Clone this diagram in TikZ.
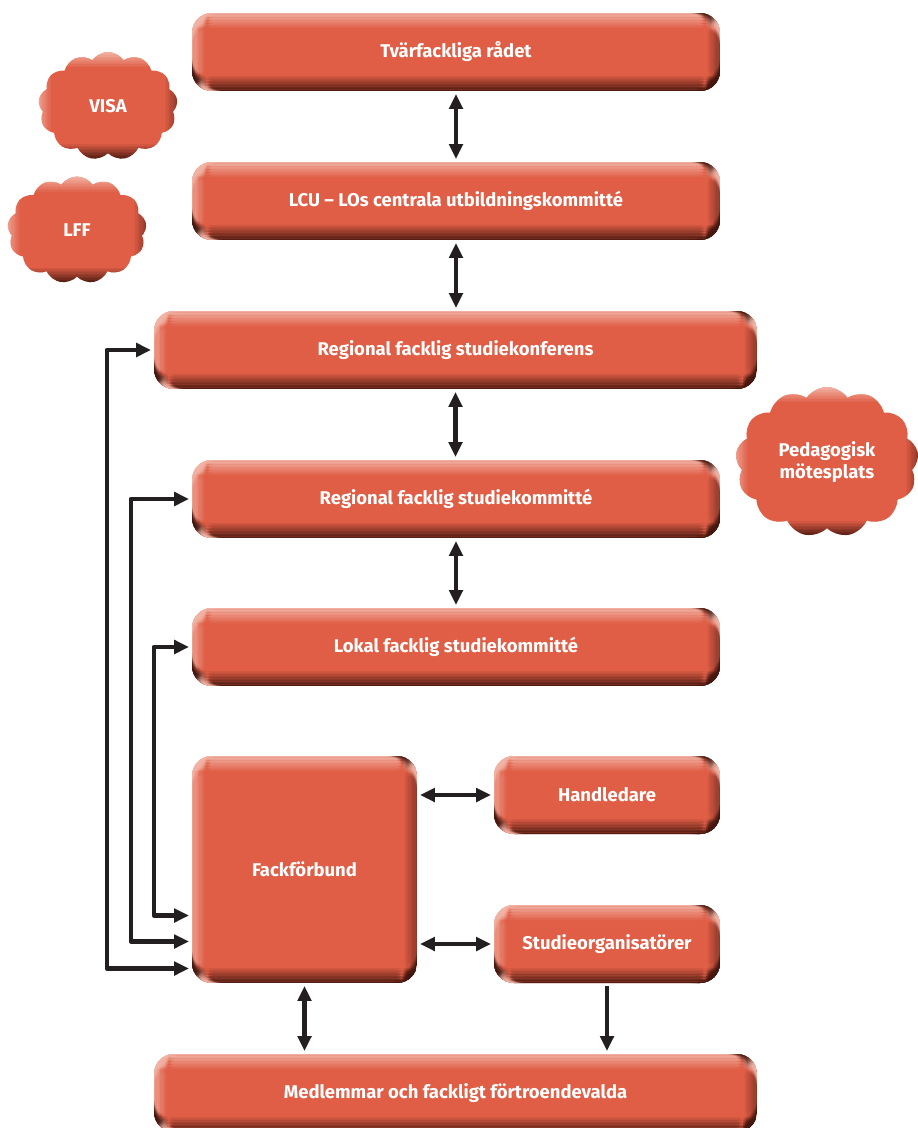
\documentclass[tikz,border=0pt]{standalone}
\usepackage{fontspec}
\setmainfont{Fira Sans}
\usetikzlibrary{arrows.meta,calc,shapes.symbols}
\definecolor{boxred}{HTML}{E05E46}
\definecolor{boxlight}{HTML}{F2B4A6}
\definecolor{boxdark}{HTML}{45170F}
\definecolor{pil}{HTML}{231F20}
\tikzset{
	bevel/.style={fill=boxred, path picture={
		\foreach \i in {0,...,9}{
			\pgfmathsetmacro\op{1-\i/10}
			\pgfmathsetmacro\ya{\i*0.03}\pgfmathsetmacro\yb{(\i+1)*0.03}
			\pgfmathsetmacro\xa{\i*0.025}\pgfmathsetmacro\xb{(\i+1)*0.025}
			\fill[boxlight,opacity=0.95*\op] ([yshift=-\ya cm]path picture bounding box.north west) rectangle ([yshift=-\yb cm]path picture bounding box.north east);
			\fill[boxlight,opacity=0.75*\op] ([xshift=\xa cm]path picture bounding box.north west) rectangle ([xshift=\xb cm]path picture bounding box.south west);
			\fill[boxdark,opacity=0.9*\op] ([yshift=\ya cm]path picture bounding box.south west) rectangle ([yshift=\yb cm]path picture bounding box.south east);
			\fill[boxdark,opacity=0.5*\op] ([xshift=-\xa cm]path picture bounding box.south east) rectangle ([xshift=-\xb cm]path picture bounding box.north east);
		}
	}},
	ruta/.style={bevel, rounded corners=0.4cm, minimum height=1.56cm, inner sep=0pt, text=white},
	moln/.style={bevel, cloud, cloud puffs=13, cloud puff arc=110, inner sep=0pt, text=white, align=center},
	pil/.style={draw=pil, line width=2.5pt, shorten <=1.5pt, shorten >=1.5pt}
}
\begin{document}
\begin{tikzpicture}[x=0.02cm,y=-0.02cm,>={Triangle[length=3mm,width=2.7mm]},line join=round,font=\fontsize{10.5pt}{12.5pt}\selectfont\bfseries]
	\useasboundingbox (0,0) rectangle (918,1128);
	% rutor
	\node[ruta, minimum width=10.56cm] (tvr) at (456,52) {Tvärfackliga rådet};
	\node[ruta, minimum width=10.56cm] (lcu) at (456,201) {LCU – LOs centrala utbildningskommitté};
	\node[ruta, minimum width=12.06cm] (konf) at (455.5,350) {Regional facklig studiekonferens};
	\node[ruta, minimum width=10.56cm] (rsk) at (456,499) {Regional facklig studiekommitté};
	\node[ruta, minimum width=10.56cm] (lsk) at (456,647) {Lokal facklig studiekommitté};
	\node[ruta, minimum width=4.5cm, minimum height=4.54cm] (fack) at (304.5,869.5) {Fackförbund};
	\node[ruta, minimum width=4.52cm] (hand) at (607,795) {Handledare};
	\node[ruta, minimum width=4.52cm] (stud) at (607,944) {Studieorganisatörer};
	\node[ruta, minimum width=12.06cm] (medl) at (455.5,1093) {Medlemmar och fackligt förtroendevalda};
	% moln
	\node[moln, minimum width=2.78cm, minimum height=2.16cm] (visa) at (108,106) {VISA};
	\node[moln, minimum width=2.78cm, minimum height=2.14cm] (lff) at (77,230) {LFF};
	\node[moln, minimum width=3.66cm, minimum height=2.3cm] (ped) at (827,462) {Pedagogisk\\mötesplats};
	% pilar
	\foreach \a/\b in {tvr/lcu,lcu/konf,konf/rsk,rsk/lsk}{\draw[pil,<->] (\a.south) -- (\a.south |- \b.north);}
	\draw[pil,<->] (fack.south) -- (fack.south |- medl.north);
	\draw[pil,->] (stud.south) -- (stud.south |- medl.north);
	\draw[pil,<->] (hand.west -| fack.east) -- (hand.west);
	\draw[pil,<->] (stud.west -| fack.east) -- (stud.west);
	\foreach \n/\d/\k in {konf/47/99,rsk/61/72,lsk/38/46}{\draw[pil,<->] (\n.west) -- ++(-\d,0) |- ($(fack.west)+(0,\k)$);}
\end{tikzpicture}
\end{document}
